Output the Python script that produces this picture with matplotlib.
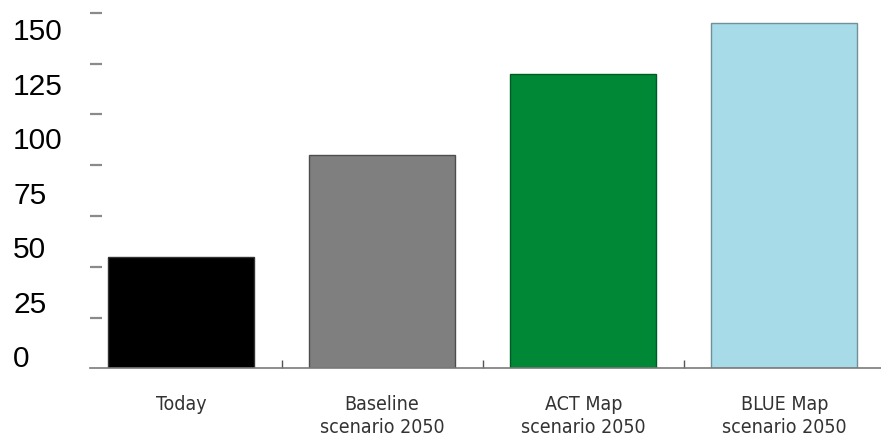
import matplotlib
matplotlib.use("Agg")
import matplotlib.pyplot as plt
from matplotlib.ticker import FixedLocator, NullFormatter

categories = ["Today", "Baseline\nscenario 2050", "ACT Map\nscenario 2050", "BLUE Map\nscenario 2050"]
values = [55, 105, 145, 170]
bar_colors = ["#000000", "#7f7f7f", "#008837", "#a7dbe8"]
edge_colors = ["#333333", "#4d4d4d", "#005c25", "#6f8f99"]
label_values = [0, 25, 50, 75, 100, 125, 150]
dash_values = [25, 50, 75, 100, 125, 150, 175]

# the printed scale sits a little above the drawn dashes
label_offset = 6.15
label_scale = 1.0723


def to_label(y):
    return (y - label_offset) / label_scale


def from_label(v):
    return v * label_scale + label_offset


fig = plt.figure(figsize=(8.81, 4.38), dpi=100)
ax = fig.add_axes([0.1022, 0.1587, 0.8978, 0.8413])

x = range(len(values))
ax.bar(x, values, width=0.726, color=bar_colors, edgecolor=edge_colors, linewidth=1.0, zorder=2)

ax.set_xlim(-0.452, 3.48)
ax.set_ylim(0, 181.3)

for side in ["top", "right", "left"]:
    ax.spines[side].set_visible(False)
ax.spines["bottom"].set_color("#7a7a7a")
ax.spines["bottom"].set_linewidth(1.2)
ax.spines["bottom"].set_zorder(3)

# category names under the bars, small separators between them
ax.set_xticks(list(x))
ax.set_xticklabels(categories, family="DejaVu Sans", fontstretch="condensed",
                   fontsize=14, color="#333333", linespacing=1.3, va="top")
ax.tick_params(axis="x", which="major", length=0, pad=19)
ax.xaxis.set_minor_locator(FixedLocator([0.5, 1.5, 2.5]))
ax.tick_params(axis="x", which="minor", direction="in", length=6, width=1.0, color="#555555")

# dashes along the left edge
ax.set_yticks(dash_values)
ax.yaxis.set_major_formatter(NullFormatter())
ax.tick_params(axis="y", direction="in", length=8.6, width=1.6, color="#8a8a8a")

sec = ax.secondary_yaxis("left", functions=(to_label, from_label))
sec.spines["left"].set_visible(False)
sec.set_yticks(label_values)
sec.tick_params(axis="y", length=0, pad=55.4, labelsize=21.5)
for lbl in sec.get_yticklabels():
    lbl.set_family(["Liberation Sans", "DejaVu Sans"])
    lbl.set_horizontalalignment("left")

fig.savefig("out.png", dpi=100, facecolor="white")
